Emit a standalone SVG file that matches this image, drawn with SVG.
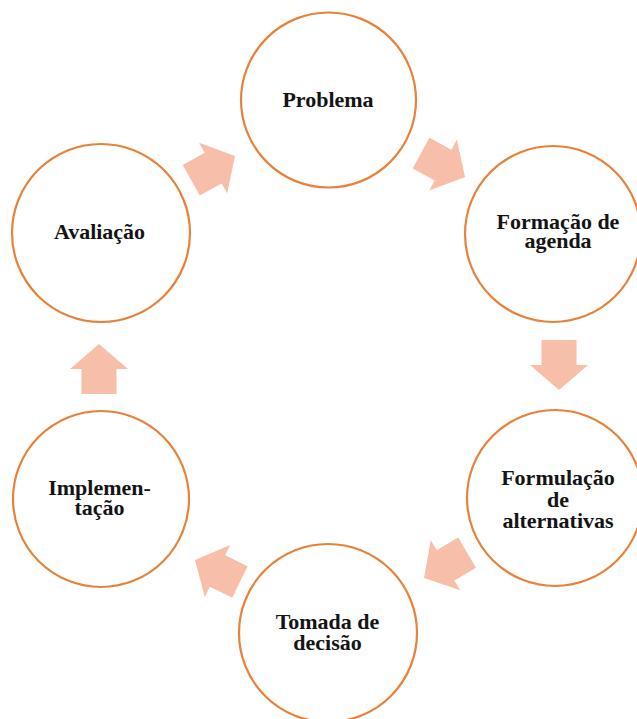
<svg xmlns="http://www.w3.org/2000/svg" width="637" height="719" viewBox="0 0 637 719">
<style>
.node circle{fill:#fff;stroke:#E8823A;stroke-width:2.2}
.node text{font-family:"Liberation Serif","Times New Roman",serif;font-weight:bold;font-size:22px;fill:#141414;text-anchor:middle}
.arr{fill:#F7BEA9}
</style>
<defs>
<polygon id="arrow" points="-50,-17.5 -25,-17.5 -25,-29 0,0 -25,29 -25,17.5 -50,17.5"/>
</defs>
<rect width="637" height="719" fill="#fff"/>
<g id="connectors">
<use href="#arrow" class="arr" transform="translate(235,156) rotate(-29)"/>
<use href="#arrow" class="arr" transform="translate(465,177) rotate(28.5)"/>
<use href="#arrow" class="arr" transform="translate(559,390) rotate(90)"/>
<use href="#arrow" class="arr" transform="translate(424,578) rotate(149.5)"/>
<use href="#arrow" class="arr" transform="translate(195,560) rotate(206)"/>
<use href="#arrow" class="arr" transform="translate(99,344) rotate(-90)"/>
</g>
<g id="problema" class="node">
<circle cx="328.5" cy="100" r="87.5"/>
<text x="328" y="107">Problema</text>
</g>
<g id="formacao" class="node">
<circle cx="553" cy="234" r="88"/>
<text x="558" y="229">Formação de</text>
<text x="558" y="248">agenda</text>
</g>
<g id="formulacao" class="node">
<circle cx="555" cy="498" r="88"/>
<text x="558" y="485">Formulação</text>
<text x="558" y="507">de</text>
<text x="558" y="528">alternativas</text>
</g>
<g id="tomada" class="node">
<circle cx="328" cy="633" r="89"/>
<text x="327.5" y="629">Tomada de</text>
<text x="327.5" y="650">decisão</text>
</g>
<g id="implementacao" class="node">
<circle cx="101" cy="499" r="88"/>
<text x="99.5" y="495">Implemen-</text>
<text x="99.5" y="515">tação</text>
</g>
<g id="avaliacao" class="node">
<circle cx="101" cy="233" r="89"/>
<text x="99.5" y="239">Avaliação</text>
</g>
</svg>
